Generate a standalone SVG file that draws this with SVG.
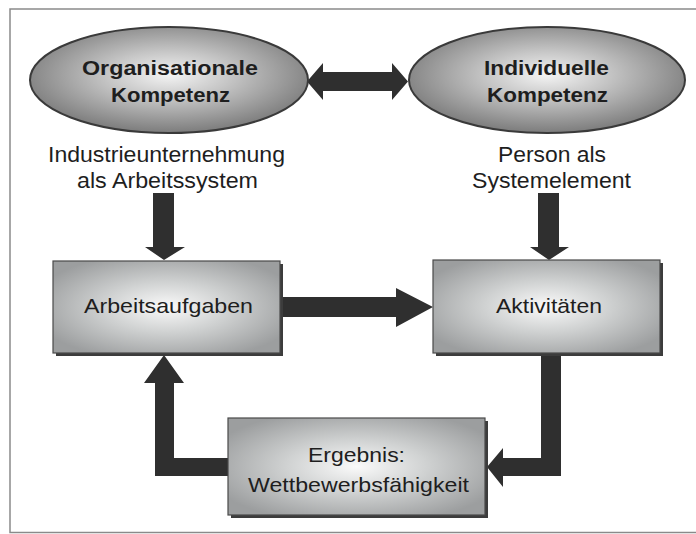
<svg xmlns="http://www.w3.org/2000/svg" width="696" height="534" viewBox="0 0 696 534">
<defs>
<radialGradient id="gEll" cx="50%" cy="45%" r="55%">
<stop offset="0" stop-color="#f4f4f4"/>
<stop offset="0.4" stop-color="#c6c6c6"/>
<stop offset="1" stop-color="#7c7c7c"/>
</radialGradient>
<radialGradient id="gBox" cx="50%" cy="50%" r="60%">
<stop offset="0" stop-color="#fafafa"/>
<stop offset="0.45" stop-color="#d0d2d2"/>
<stop offset="1" stop-color="#9c9e9f"/>
</radialGradient>
</defs>
<style>
.frame{stroke:#8a8a8a;stroke-width:1.5;fill:none}
.ell{fill:url(#gEll);stroke:#3a3a3a;stroke-width:2}
.box{fill:url(#gBox);stroke:#4a4a4a;stroke-width:1.2}
.shadow{fill:#3c3c3c}
.arrow{fill:#2f2f2f}
text{font-family:"Liberation Sans",Arial,sans-serif;fill:#1e1e1e;text-anchor:middle}
.b{font-weight:bold;font-size:20px}
.r{font-size:22px}
.n{font-size:21px}
</style>
<rect width="696" height="534" fill="#ffffff"/>
<g id="frame">
<path class="frame" d="M696,9 H10 V532.5 H696"/>
</g>
<g id="connectors">
<polygon class="arrow" points="307,81.5 323,63 323,72 392,72 392,63 408,81.5 392,100 392,91 323,91 323,100"/>
<polygon class="arrow" points="153,193 174,193 174,247 185,247 164,260 145,247 153,247"/>
<polygon class="arrow" points="538,193 559,193 559,247 569,247 549,260 530,247 538,247"/>
<polygon class="arrow" points="281,297 396,297 396,288 433,307 396,327 396,317 281,317"/>
<polygon class="arrow" points="541,353 561,353 561,476 503,476 503,487 487,467 503,448 503,458 541,458"/>
<polygon class="arrow" points="228,458 174,458 174,383 184,383 164,355 144,383 155,383 155,476 228,476"/>
</g>
<g id="org">
<ellipse class="ell" cx="169" cy="80" rx="139" ry="53"/>
<text class="b" x="170" y="75" textLength="176" lengthAdjust="spacingAndGlyphs">Organisationale</text>
<text class="b" x="170.5" y="102" textLength="119" lengthAdjust="spacingAndGlyphs">Kompetenz</text>
</g>
<g id="ind">
<ellipse class="ell" cx="547" cy="80" rx="138" ry="53"/>
<text class="b" x="546.5" y="75" textLength="125" lengthAdjust="spacingAndGlyphs">Individuelle</text>
<text class="b" x="547.5" y="102" textLength="121" lengthAdjust="spacingAndGlyphs">Kompetenz</text>
</g>
<g id="label-org">
<text class="r" x="166.5" y="162" textLength="237" lengthAdjust="spacingAndGlyphs">Industrieunternehmung</text>
<text class="r" x="167.5" y="188" textLength="181" lengthAdjust="spacingAndGlyphs">als Arbeitssystem</text>
</g>
<g id="label-ind">
<text class="r" x="552" y="162" textLength="108" lengthAdjust="spacingAndGlyphs">Person als</text>
<text class="r" x="551.5" y="188" textLength="159" lengthAdjust="spacingAndGlyphs">Systemelement</text>
</g>
<g id="arbeitsaufgaben">
<rect class="shadow" x="56" y="264" width="227" height="92"/>
<rect class="box" x="53" y="261" width="227" height="92"/>
<text class="n" x="168.5" y="313" textLength="169" lengthAdjust="spacingAndGlyphs">Arbeitsaufgaben</text>
</g>
<g id="aktivitaeten">
<rect class="shadow" x="436" y="263" width="227" height="93"/>
<rect class="box" x="433" y="260" width="227" height="93"/>
<text class="n" x="549" y="313" textLength="106" lengthAdjust="spacingAndGlyphs">Aktivitäten</text>
</g>
<g id="ergebnis">
<rect class="shadow" x="231" y="421" width="257" height="97"/>
<rect class="box" x="228" y="418" width="257" height="97"/>
<text class="n" x="356.5" y="462" textLength="97" lengthAdjust="spacingAndGlyphs">Ergebnis:</text>
<text class="n" x="358.5" y="492" textLength="221" lengthAdjust="spacingAndGlyphs">Wettbewerbsfähigkeit</text>
</g>
</svg>
